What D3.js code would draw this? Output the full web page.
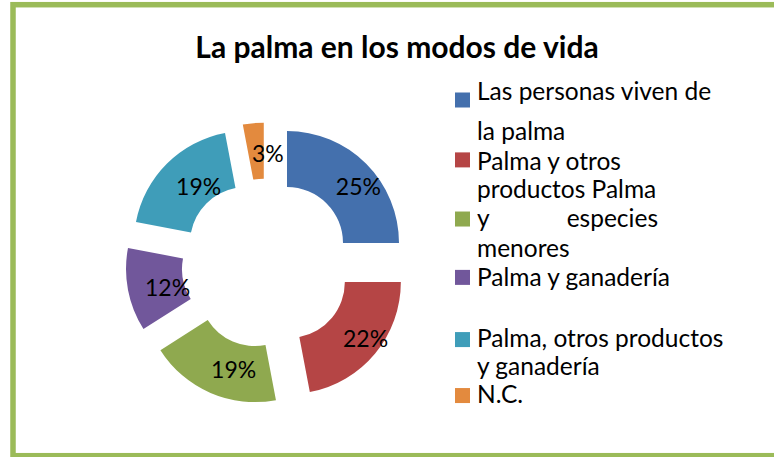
<!DOCTYPE html>
<html><head><meta charset="utf-8">
<script src="https://cdn.jsdelivr.net/npm/d3@7"></script>
<style>html,body{margin:0;padding:0;background:#fff;}svg{display:block;}</style>
</head><body>
<svg id="chart" width="774" height="457"></svg>
<script>
// ---- data ----
const title = "La palma en los modos de vida";
const categories = ["Las personas viven de la palma","Palma y otros productos","Palma y especies menores","Palma y ganadería","Palma, otros productos y ganadería","N.C."];
const values = [25, 22, 19, 12, 19, 3];
const labels = ["25%","22%","19%","12%","19%","3%"];
const colors = ["#4470ad","#b54545","#8fa94f","#71579b","#3f9db9","#e38a3e"];
// legend text as it wraps in the original (line text, owning category index, justify width or 0)
const legendLines = [
  {t:"Las personas viven de", cat:0, just:0},
  {t:"la palma", cat:-1, just:0},
  {t:"Palma y otros", cat:1, just:0},
  {t:"productos Palma", cat:-1, just:0},
  {t:"y especies", cat:2, just:181},
  {t:"menores", cat:-1, just:0},
  {t:"Palma y ganadería", cat:3, just:0},
  {t:"Palma, otros productos", cat:4, just:243},
  {t:"y ganadería", cat:-1, just:0},
  {t:"N.C.", cat:5, just:0}
];
const legendRows = [0, 1.38, 2.41, 3.38, 4.38, 5.41, 6.41, 8.52, 9.48, 10.45];
const swatchShift = [0, -10, -8, -8.5, -7.5, -7.5];

const svg = d3.select("#chart");
const FONT = "Lato, 'Open Sans', sans-serif";

// border
svg.append("rect").attr("x",13).attr("y",4.7).attr("width",800).attr("height",451)
  .attr("fill","none").attr("stroke","#9bbb59").attr("stroke-width",5.5);

// title
svg.append("text").attr("x",397).attr("y",58).attr("text-anchor","middle")
  .attr("font-family",FONT).attr("font-weight","bold").attr("font-size",30)
  .attr("fill","#000").text(title);

// donut
const cx = 266.5, cy = 263.5, R = 112, r = 56, explode = 29;
const pie = d3.pie().sort(null).value(d=>d)(values);
const arc = d3.arc().innerRadius(r).outerRadius(R);
const g = svg.append("g").attr("transform",`translate(${cx},${cy})`);
const mid = d => (d.startAngle + d.endAngle)/2;
const slices = g.selectAll("g.slice").data(pie).join("g").attr("class","slice")
  .attr("transform", d => `translate(${explode*Math.sin(mid(d))},${-explode*Math.cos(mid(d))})`);
slices.append("path").attr("d",arc).attr("fill",(d,i)=>colors[i]);
const lr = (R + r)/2;
slices.append("text")
  .attr("x", d => lr*Math.sin(mid(d)) + 12)
  .attr("y", d => -lr*Math.cos(mid(d)) + 2)
  .attr("text-anchor","middle").attr("dominant-baseline","central")
  .attr("font-family",FONT).attr("font-size",23).attr("fill","#000")
  .text((d,i)=>labels[i]);

// legend
const lx = 477, ly = 100, lh = 29;
const leg = svg.append("g");
legendLines.forEach((ln,k) => {
  const y = ly + legendRows[k]*lh;
  const t = leg.append("text").attr("x",lx).attr("y",y)
    .attr("font-family",FONT).attr("font-size",24.5).attr("fill","#000")
    .text(ln.t);
  if (ln.just) {
    const w = t.node().getComputedTextLength();
    const n = ln.t.split(" ").length - 1;
    t.attr("word-spacing", Math.max(0,(ln.just - w)/n) + "px");
  }
  if (ln.cat >= 0) {
    leg.append("rect").attr("x",455).attr("y", y + swatchShift[ln.cat] - 7.5)
      .attr("width",15).attr("height",15).attr("fill",colors[ln.cat]);
  }
});
</script>
</body></html>
